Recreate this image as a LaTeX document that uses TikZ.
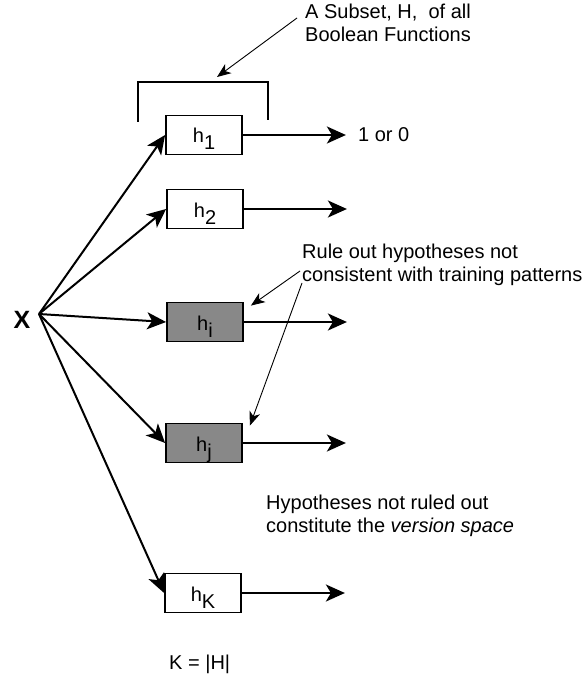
\documentclass[tikz,border=0pt]{standalone}
\usepackage{fontspec}
\setmainfont{Liberation Sans}
\usetikzlibrary{arrows.meta}
\definecolor{boxgray}{RGB}{136,136,136}
\newcommand{\hyp}[1]{h\raisebox{-7pt}{#1}}

\begin{document}
\begin{tikzpicture}[x=1pt,y=-1pt,
  every node/.style={font=\fontsize{20}{23}\selectfont},
  hbox/.style={draw,line width=1.8pt,minimum width=76pt,minimum height=39pt,inner sep=0pt,text height=18pt,text depth=2pt},
  ruled/.style={hbox,fill=boxgray},
  arr/.style={line width=2pt,-{Stealth[length=19pt,width=17pt,inset=5pt]}},
  note/.style={line width=0.9pt,-{Stealth[length=14pt,width=11pt,inset=4pt]}}]
\useasboundingbox (0,0) rectangle (585,676);

\node[font=\bfseries\fontsize{25}{25}\selectfont] (x) at (22,320) {X};
\coordinate (src) at (39,314);

\node[hbox] (h1) at (204,135) {\hyp{1}};
\node[hbox] (h2) at (205,209) {\hyp{2}};
\node[ruled] (hi) at (205,322) {\hyp{i}};
\node[ruled] (hj) at (204,443) {\hyp{j}};
\node[hbox] (hK) at (203,593) {\hyp{K}};

\foreach \b in {h1,h2,hi,hj,hK} {
  \draw[arr] (src) -- (\b.west);
  \coordinate (\b out) at ([xshift=103pt]\b.east);
  \draw[arr] (\b.east) -- (\b out);
}
\node[anchor=west,inner sep=0pt] (bit) at ([xshift=12pt]h1out) {1 or 0};

\draw[line width=2.8pt] (138,122) -- (138,82) -- (268,82) -- (268,120);
\coordinate (brk) at (217,77);
\node[anchor=north west,align=left,inner sep=0pt] (subset) at (305,3.5) {A Subset, H,\ \ of all\\Boolean Functions};
\coordinate (subtail) at (297,18);
\draw[note] (subtail) -- (brk);

\node[anchor=north west,align=left,inner sep=0pt] (rule) at (302,243.5) {Rule out hypotheses not\\consistent with training patterns};
\coordinate (r1) at (300,271);
\coordinate (r2) at (302,283);
\draw[note] (r1) -- ([shift={(7,4)}]hi.north east);
\draw[note] (r2) -- ([shift={(7,3)}]hj.north east);

\node[anchor=north west,align=left,inner sep=0pt] (space) at (266,494.5) {Hypotheses not ruled out\\constitute the \textit{version space}};

\node[anchor=base west,inner sep=0pt] (card) at (169,669) {K = |H|};
\end{tikzpicture}
\end{document}
